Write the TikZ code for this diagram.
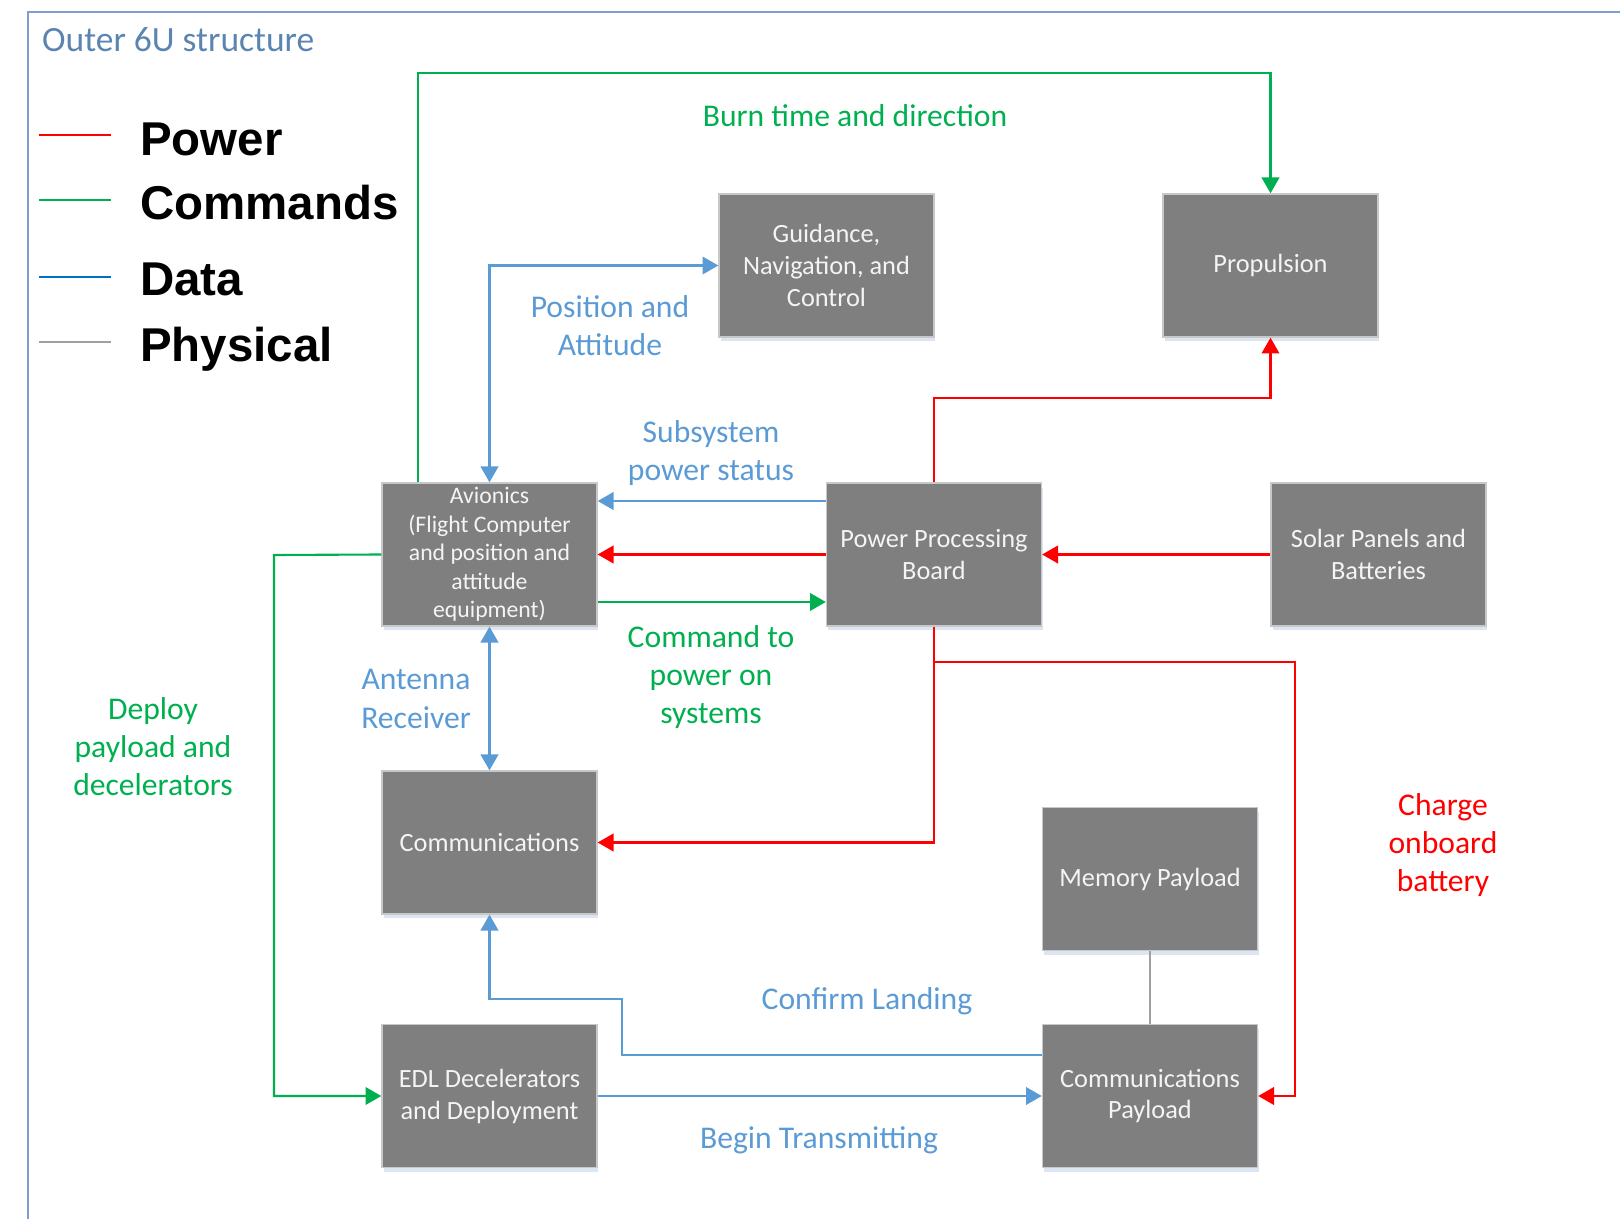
\documentclass[tikz,border=0pt]{standalone}
\usepackage{fontspec}
\setmainfont{Carlito}
\newfontfamily\legendfont{Liberation Sans}
\usetikzlibrary{arrows.meta,shadows}

\definecolor{pwrred}{HTML}{FF0000}
\definecolor{cmdgreen}{HTML}{00B050}
\definecolor{datablue}{HTML}{5B9BD5}
\definecolor{keyblue}{HTML}{0070C0}
\definecolor{physgray}{HTML}{A0A0A0}
\definecolor{boxgray}{HTML}{7F7F7F}
\definecolor{boxedge}{HTML}{C8C8C8}
\definecolor{boxtext}{HTML}{F4F4F4}
\definecolor{framblue}{HTML}{7F9FC8}
\definecolor{titleblue}{HTML}{5B84B1}
\definecolor{shadeblue}{HTML}{DCE6F2}

\tikzset{
  block/.style={draw=boxedge, line width=0.8pt, fill=boxgray, text=boxtext,
    align=center, minimum width=4.3cm, minimum height=2.86cm, inner sep=2pt,
    font=\fontsize{15}{18.2}\selectfont,
    drop shadow={fill=shadeblue, opacity=1, shadow xshift=0.03cm, shadow yshift=-0.09cm}},
  tip/.style={-{Triangle[length=9pt,width=10pt]}},
  pwr/.style={draw=pwrred, line width=1.2pt, tip},
  cmd/.style={draw=cmdgreen, line width=1.2pt, tip},
  data/.style={draw=datablue, line width=1.2pt},
  phys/.style={draw=physgray, line width=1.2pt},
  lbl/.style={align=center, font=\fontsize{18}{21.7}\selectfont},
  key/.style={anchor=base west, font=\legendfont\bfseries\fontsize{27}{30}\selectfont}
}

\begin{document}
\begin{tikzpicture}[x=0.02cm, y=-0.02cm] % one unit = one pixel of the sketch, y downwards
\useasboundingbox (0,0) rectangle (1620,1219);
\clip (0,0) rectangle (1620,1219);

% outer structure, open to the right and bottom
\draw[framblue, line width=1.3pt] (28,12) rectangle (1700,1300);
\node[anchor=base west, text=titleblue, font=\fontsize{20.2}{23}\selectfont] (title) at (36,52) {Outer 6U structure};

% key
\draw[pwr, -] (39,135) -- (111,135);
\draw[cmd, -] (39,200) -- (111,200);
\draw[keyblue, line width=1.2pt] (39,277) -- (111,277);
\draw[phys] (39,342) -- (111,342);
\node[key] (kpwr) at (134,156) {Power};
\node[key] (kcmd) at (134,220) {Commands};
\node[key] (kdata) at (134,296) {Data};
\node[key] (kphys) at (134,362) {Physical};

% subsystems
\node[block] (gnc) at (826.5,265.5) {Guidance,\\Navigation, and\\Control};
\node[block] (prop) at (1270.5,265.5) {Propulsion};
\node[block, font=\fontsize{13.5}{16.2}\selectfont] (avionics) at (489.5,554.5)
  {Avionics\\(Flight Computer\\and position and\\attitude\\equipment)};
\node[block] (ppb) at (934,554.5) {Power Processing\\Board};
\node[block] (solar) at (1378.5,554.5) {Solar Panels and\\Batteries};
\node[block] (comms) at (489.5,842.5) {Communications};
\node[block] (memory) at (1150,879) {Memory Payload};
\node[block] (edl) at (489.5,1096) {EDL Decelerators\\and Deployment};
\node[block] (commpay) at (1150,1096) {Communications\\Payload};

% bends of the routed lines
\coordinate (burn) at (418,73);
\coordinate (ppbup) at (934,398);
\coordinate (deploy) at (274,555);
\coordinate (charge) at (1295,662);
\coordinate (landing) at (622,999);

% commands
\draw[cmd] (avionics.north -| burn) -- (burn) -| (prop.north);
\draw[cmd] ([yshift=-0.95cm]avionics.east) -- ([yshift=-0.95cm]ppb.west);
\draw[cmd] (avionics.west) -- (deploy) |- (edl.west);

% power
\draw[pwr] (ppb.north) -- (ppbup) -| (prop.south);
\draw[pwr] (ppb.west) -- (avionics.east);
\draw[pwr] (solar.west) -- (ppb.east);
\draw[pwr] (ppb.south) |- (comms.east);
\draw[pwr] (ppb.south |- charge) -- (charge) |- (commpay.east);

% data
\draw[data, {Triangle[length=9pt,width=10pt]}-{Triangle[length=9pt,width=10pt]}] (gnc.west) -| (avionics.north);
\draw[data, tip] ([yshift=1.07cm]ppb.west) -- ([yshift=1.07cm]avionics.east);
\draw[data, {Triangle[length=9pt,width=10pt]}-{Triangle[length=9pt,width=10pt]}] (avionics.south) -- (comms.north);
\draw[data, tip] ([yshift=0.82cm]commpay.west) -| (landing) -| (comms.south);
\draw[data, tip] (edl.east) -- (commpay.west);

% physical
\draw[phys] (memory.south) -- (commpay.north);

% line labels
\node[lbl, text=cmdgreen] (lburn) at (855,116) {Burn time and direction};
\node[lbl, text=datablue] (lpos) at (610,326) {Position and\\Attitude};
\node[lbl, text=datablue] (lstatus) at (711,453) {Subsystem\\power status};
\node[lbl, text=cmdgreen] (lpoweron) at (711,677) {Command to\\power on\\systems};
\node[lbl, text=datablue] (lantenna) at (416,699) {Antenna\\Receiver};
\node[lbl, text=cmdgreen] (ldeploy) at (153,747) {Deploy\\payload and\\decelerators};
\node[lbl, text=pwrred] (lcharge) at (1443,845) {Charge\\onboard\\battery};
\node[lbl, text=datablue] (llanding) at (867,1001) {Confirm Landing};
\node[lbl, text=datablue] (lbegin) at (819,1140) {Begin Transmitting};

\end{tikzpicture}
\end{document}
